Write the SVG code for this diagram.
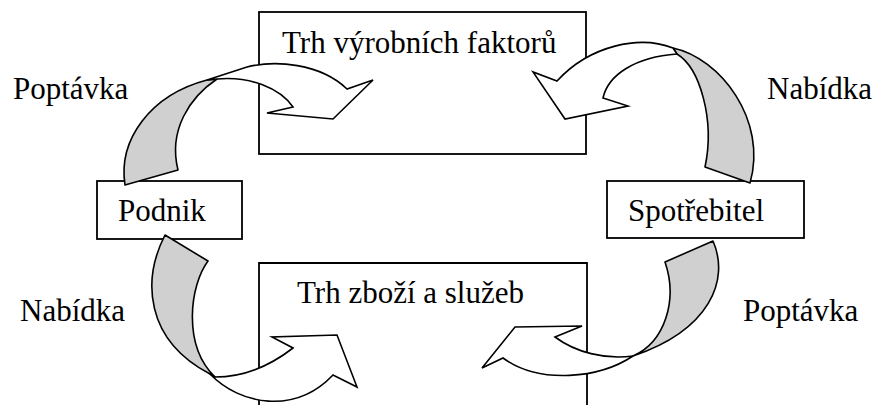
<svg xmlns="http://www.w3.org/2000/svg" width="876" height="405" viewBox="0 0 876 405">
<style>
.box{fill:#fff;stroke:#000;stroke-width:1.8}
.lbl{font-size:31px;fill:#000}
.fold{fill:#d0d0d0;stroke:#000;stroke-width:1.6;stroke-linejoin:round}
.head{fill:#fff;stroke:#000;stroke-width:1.6;stroke-linejoin:miter}
</style>
<rect width="876" height="405" fill="#fff"/>
<g font-family="'Liberation Serif', 'DejaVu Serif', serif">
<g id="trh-vyrobnich-faktoru">
<rect class="box" x="259" y="12" width="327" height="142"/>
<text class="lbl" x="282" y="53">Trh výrobních faktorů</text>
</g>
<g id="trh-zbozi-a-sluzeb">
<path class="box" d="M259,410 V263 H587 V410"/>
<text class="lbl" x="297" y="303">Trh zboží a služeb</text>
</g>
<g id="podnik">
<rect class="box" x="97" y="181" width="145" height="58"/>
<text class="lbl" x="118" y="221">Podnik</text>
</g>
<g id="spotrebitel">
<rect class="box" x="607" y="181" width="197" height="57"/>
<text class="lbl" x="628" y="221">Spotřebitel</text>
</g>
<g id="labels">
<text class="lbl" x="13" y="99">Poptávka</text>
<text class="lbl" x="767" y="99">Nabídka</text>
<text class="lbl" x="20" y="321">Nabídka</text>
<text class="lbl" x="743" y="321">Poptávka</text>
</g>
</g>
<g id="connectors">
<g id="arrow-podnik-faktory">
<path class="fold" d="M125,185 C118,140 150,95 207,80 L217,79 C190,97 168,130 178,170 Z"/>
<path class="head" d="M207,80 L247,67 C275,60 320,63 347,89 L373,80 L333,119 L267,113 L293,107 C280,88 250,76 217,79 Z"/>
</g>
<g id="arrow-spotrebitel-faktory">
<path class="fold" d="M673,48 C720,58 768,120 750,183 L705,167 C715,120 700,68 677,54 Z"/>
<path class="head" d="M673,48 C640,35 590,45 557,81 L533,72 L565,119 L628,106 L603,98 C608,75 635,57 677,54 Z"/>
</g>
<g id="arrow-podnik-zbozi">
<path class="fold" d="M165,235 L208,261 C190,285 182,345 215,377 L210,374 C145,340 142,280 165,235 Z"/>
<path class="head" d="M210,374 C240,405 295,415 333,375 L357,387 L337,335 L272,337 L293,348 C275,362 250,377 215,377 Z"/>
</g>
<g id="arrow-spotrebitel-zbozi">
<path class="fold" d="M665,262 L713,241 C730,280 710,330 633,356 C665,342 678,300 665,262 Z"/>
<path class="head" d="M633,356 C600,378 540,385 503,358 L482,368 L515,327 L582,326 L555,337 C575,352 605,360 633,356 Z"/>
</g>
</g>
</svg>
